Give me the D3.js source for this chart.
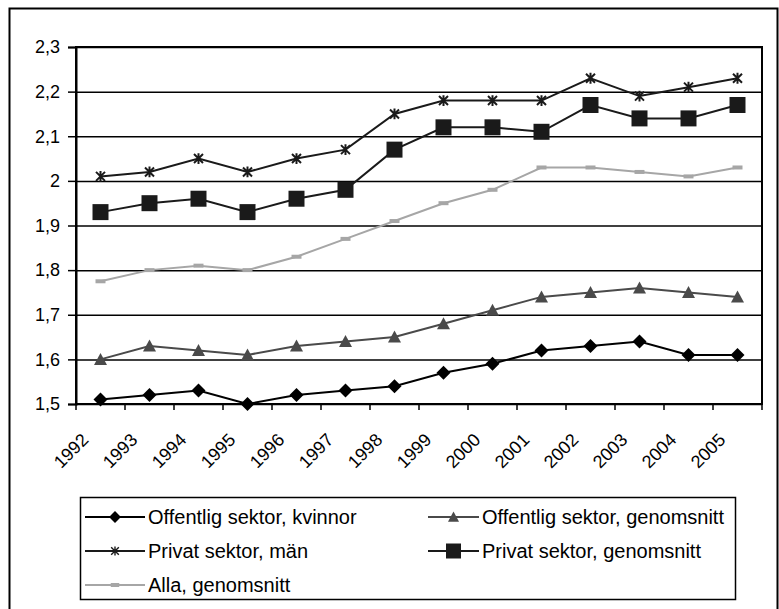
<!DOCTYPE html>
<html>
<head>
<meta charset="utf-8">
<script src="https://cdn.jsdelivr.net/npm/d3@7"></script>
<style>
  body { margin: 0; background: #fff; }
  text { font-family: Arial, "Liberation Sans", sans-serif; fill: #000; }
</style>
</head>
<body>
<div id="root"></div>
<script>
const years = ["1992", "1993", "1994", "1995", "1996", "1997", "1998", "1999", "2000", "2001", "2002", "2003", "2004", "2005"];
const yTicks = [1.5, 1.6, 1.7, 1.8, 1.9, 2.0, 2.1, 2.2, 2.3];

const offKvinnor = [1.51, 1.52, 1.53, 1.50, 1.52, 1.53, 1.54, 1.57, 1.59, 1.62, 1.63, 1.64, 1.61, 1.61];
const offSnitt = [1.60, 1.63, 1.62, 1.61, 1.63, 1.64, 1.65, 1.68, 1.71, 1.74, 1.75, 1.76, 1.75, 1.74];
const privMan = [2.01, 2.02, 2.05, 2.02, 2.05, 2.07, 2.15, 2.18, 2.18, 2.18, 2.23, 2.19, 2.21, 2.23];
const privSnitt = [1.93, 1.95, 1.96, 1.93, 1.96, 1.98, 2.07, 2.12, 2.12, 2.11, 2.17, 2.14, 2.14, 2.17];
const allaSnitt = [1.775, 1.80, 1.81, 1.80, 1.83, 1.87, 1.91, 1.95, 1.98, 2.03, 2.03, 2.02, 2.01, 2.03];

// marker shapes, drawn around 0,0
const shapes = {
  diamond: (s) => `M0,${-s}L${s},0L0,${s}L${-s},0Z`,
  triangle: (s) => `M0,${-s}L${s},${s * 0.85}L${-s},${s * 0.85}Z`,
  square: (s) => `M${-s},${-s}H${s}V${s}H${-s}Z`,
  star: (s) => `M${-s},${-s}L${s},${s}M${-s},${s}L${s},${-s}M0,${-s * 1.2}V${s * 1.2}`,
  dash: (s) => `M${-s},-2H${s}V2H${-s}Z`,
};

const series = [
  { name: "Offentlig sektor, kvinnor", values: offKvinnor, color: "#000", shape: "diamond", size: 7 },
  { name: "Offentlig sektor, genomsnitt", values: offSnitt, color: "#4a4a4a", shape: "triangle", size: 6.5 },
  { name: "Privat sektor, män", values: privMan, color: "#1a1a1a", shape: "star", size: 4.5 },
  { name: "Privat sektor, genomsnitt", values: privSnitt, color: "#1a1a1a", shape: "square", size: 8 },
  { name: "Alla, genomsnitt", values: allaSnitt, color: "#a6a6a6", shape: "dash", size: 5 },
];

const W = 779, H = 609;
const margin = { top: 47, right: 17, bottom: 205, left: 76 };
const width = W - margin.left - margin.right;
const height = H - margin.top - margin.bottom;

const svg = d3.select("#root").append("svg").attr("width", W).attr("height", H);

// outer frame
svg.append("rect")
  .attr("x", 9.5).attr("y", 8.5)
  .attr("width", 768).attr("height", 610)
  .attr("fill", "none").attr("stroke", "#000").attr("stroke-width", 2);

const x = d3.scaleBand().domain(years).range([0, width]).padding(0);
const y = d3.scaleLinear().domain([1.5, 2.3]).range([height, 0]);

const g = svg.append("g").attr("transform", `translate(${margin.left},${margin.top})`);

// gridlines
g.append("g")
  .call(d3.axisLeft(y).tickValues(yTicks).tickSize(-width).tickFormat(""))
  .call((s) => s.select(".domain").remove())
  .selectAll("line").attr("stroke", "#000").attr("stroke-width", 1.5);

// plot border
g.append("rect")
  .attr("width", width).attr("height", height)
  .attr("fill", "none").attr("stroke", "#000").attr("stroke-width", 2);

// y axis
const yAxis = g.append("g")
  .call(d3.axisLeft(y).tickValues(yTicks).tickSize(8).tickPadding(8)
    .tickFormat((d) => d3.format(".1~f")(d).replace(".", ",")));
yAxis.select(".domain").attr("stroke-width", 2);
yAxis.selectAll("line").attr("stroke-width", 1.5);
yAxis.selectAll("text").attr("font-size", "18px").attr("fill", "#000");

// x axis ticks on band edges
const edges = years.map((d) => x(d)).concat([width]);
g.append("g").selectAll("line").data(edges).enter().append("line")
  .attr("x1", (d) => d).attr("x2", (d) => d)
  .attr("y1", height).attr("y2", height + 6)
  .attr("stroke", "#000").attr("stroke-width", 1.5);

g.append("g").selectAll("text").data(years).enter().append("text")
  .attr("transform", (d) => `translate(${x(d) + x.bandwidth() / 2 - 11},${height + 37}) rotate(-45)`)
  .attr("text-anchor", "end")
  .attr("font-size", "18px")
  .text((d) => d);

// lines and markers
const line = d3.line()
  .x((d, i) => x(years[i]) + x.bandwidth() / 2)
  .y((d) => y(d));

series.forEach((s) => {
  g.append("path")
    .datum(s.values)
    .attr("fill", "none")
    .attr("stroke", s.color)
    .attr("stroke-width", 2)
    .attr("d", line);

  g.append("g").selectAll("path").data(s.values).enter().append("path")
    .attr("transform", (d, i) => `translate(${x(years[i]) + x.bandwidth() / 2},${y(d)})`)
    .attr("d", shapes[s.shape](s.size))
    .attr("fill", s.shape === "star" ? "none" : s.color)
    .attr("stroke", s.color)
    .attr("stroke-width", s.shape === "star" ? 2 : 0);
});

// legend
const legend = svg.append("g");
legend.append("rect")
  .attr("x", 80.5).attr("y", 497.5)
  .attr("width", 655).attr("height", 102)
  .attr("fill", "#fff").attr("stroke", "#000").attr("stroke-width", 1.5);

const legendPos = [
  { x1: 85, x2: 145, y: 517 },
  { x1: 428, x2: 479, y: 517 },
  { x1: 85, x2: 145, y: 551 },
  { x1: 428, x2: 479, y: 551 },
  { x1: 85, x2: 145, y: 585 },
];

series.forEach((s, i) => {
  const p = legendPos[i];
  const item = legend.append("g");
  item.append("line")
    .attr("x1", p.x1).attr("x2", p.x2).attr("y1", p.y).attr("y2", p.y)
    .attr("stroke", s.color).attr("stroke-width", 2);
  item.append("path")
    .attr("transform", `translate(${(p.x1 + p.x2) / 2},${p.y})`)
    .attr("d", shapes[s.shape](s.shape === "square" ? 7.5 : s.size * 0.85))
    .attr("fill", s.shape === "star" ? "none" : s.color)
    .attr("stroke", s.color)
    .attr("stroke-width", s.shape === "star" ? 1.4 : 0);
  item.append("text")
    .attr("x", p.x2 + 3).attr("y", p.y)
    .attr("dy", "0.35em")
    .attr("font-size", "20px")
    .text(s.name);
});
</script>
</body>
</html>
